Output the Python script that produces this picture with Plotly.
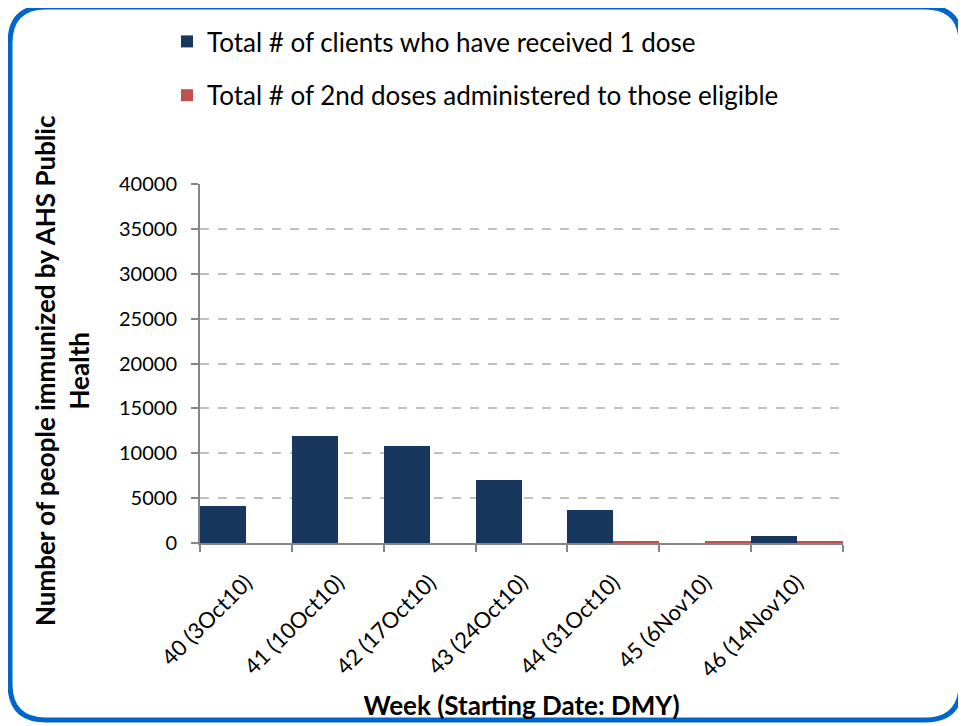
import plotly.graph_objects as go

weeks = ["40 (3Oct10)", "41 (10Oct10)", "42 (17Oct10)", "43 (24Oct10)",
         "44 (31Oct10)", "45 (6Nov10)", "46 (14Nov10)"]
first_dose = [4100, 11900, 10800, 7000, 3700, 0, 800]
second_dose = [0, 0, 0, 0, 250, 250, 250]

# the page body adds an 8px margin, so target pixels are shifted by OFF
OFF = 8
W, H = 966 - OFF, 726 - OFF
L, R, T, B = 200 - OFF, 843 - OFF, 184 - OFF, 543 - OFF

def px(x):
    return (x - OFF - L) / (R - L)

def py(y):
    return (B - (y - OFF)) / (B - T)

fig = go.Figure()
fig.add_trace(go.Bar(x=weeks, y=first_dose, name="Total # of clients who have received 1 dose",
                     marker=dict(color="#17375e", line=dict(width=0)),
                     legendgroup="a"))
fig.add_trace(go.Bar(x=weeks, y=second_dose, name="Total # of 2nd doses administered to those eligible",
                     marker=dict(color="#c0504d", line=dict(width=0)),
                     legendgroup="b"))

# rounded blue frame (screen pixels)
x0, y0, x1, y1, r = 10, 7, 961, 720, 36
path = (f"M {px(x0 + r)},{py(y0)} L {px(x1 - r)},{py(y0)} "
        f"Q {px(x1)},{py(y0)} {px(x1)},{py(y0 + r)} "
        f"L {px(x1)},{py(y1 - r)} Q {px(x1)},{py(y1)} {px(x1 - r)},{py(y1)} "
        f"L {px(x0 + r)},{py(y1)} Q {px(x0)},{py(y1)} {px(x0)},{py(y1 - r)} "
        f"L {px(x0)},{py(y0 + r)} Q {px(x0)},{py(y0)} {px(x0 + r)},{py(y0)} Z")
fig.add_shape(type="path", path=path, xref="paper", yref="paper",
              line=dict(color="#0066cc", width=5), layer="above")

# y axis title as a rotated annotation
fig.add_annotation(text="<b>Number of people immunized by AHS Public<br>Health</b>",
                   xref="paper", yref="paper", x=px(62), y=py(371),
                   xanchor="center", yanchor="middle",
                   textangle=-90, showarrow=False, font=dict(size=26), align="center")

fig.update_layout(
    width=W, height=H,
    margin=dict(l=L, r=W - R, t=T, b=H - B, autoexpand=False),
    paper_bgcolor="white", plot_bgcolor="white",
    font=dict(family="Lato", color="black", size=20),
    barmode="group", bargap=0, bargroupgap=0,
    legend=dict(xref="container", yref="container", x=159 / W, y=1 - 10 / H,
                xanchor="left", yanchor="top",
                font=dict(size=26), tracegroupgap=17, traceorder="grouped",
                bgcolor="rgba(0,0,0,0)"),
    xaxis=dict(showline=True, linecolor="#868686", linewidth=2,
               ticks="outside", tickson="boundaries", ticklen=7, tickcolor="#868686",
               tickwidth=2, tickangle=-45, tickfont=dict(size=22), ticklabelstandoff=16,
               automargin=False,
               title=dict(text="<b>Week (Starting Date: DMY)</b>", font=dict(size=26), standoff=15)),
    yaxis=dict(range=[0, 40000], dtick=5000, tickformat="d", showline=True,
               linecolor="#868686", linewidth=2,
               ticks="outside", ticklen=7, tickcolor="#868686", tickwidth=2,
               showgrid=True, gridcolor="#c0c0c0", griddash="dash", gridwidth=1.5,
               zeroline=False, tickfont=dict(size=20), ticklabelstandoff=10,
               automargin=False),
)

fig.write_html("out.html")
